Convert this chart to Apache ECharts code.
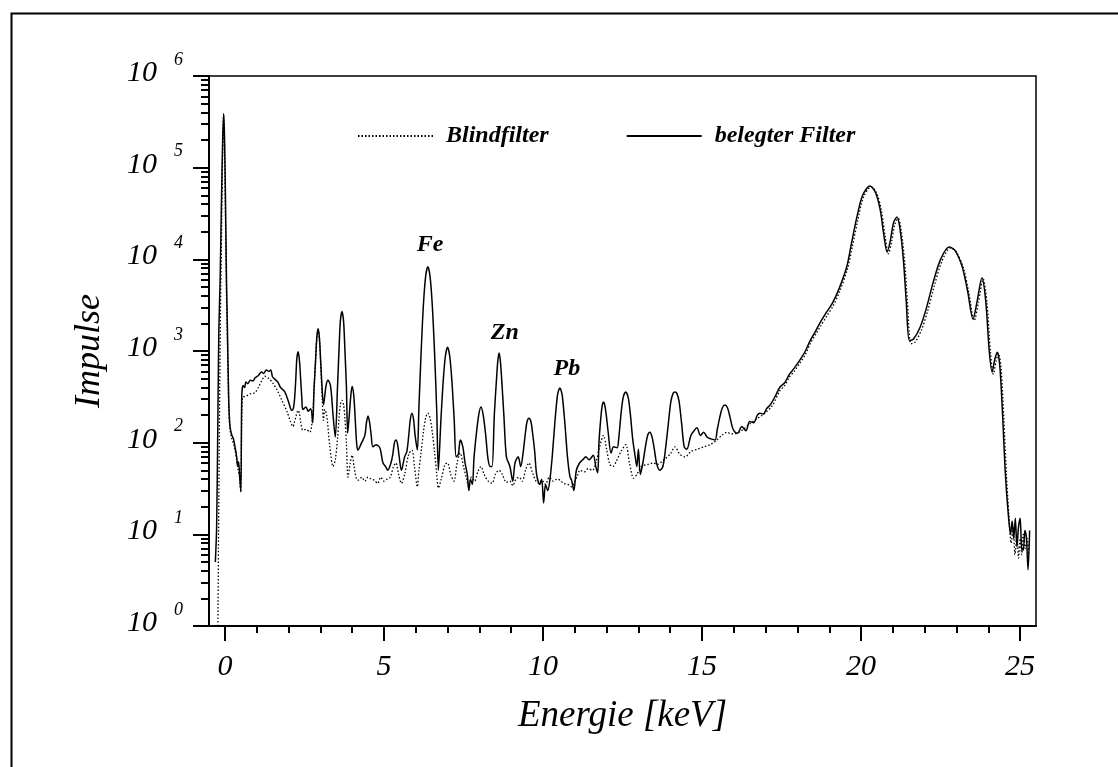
<!DOCTYPE html>
<html>
<head>
<meta charset="utf-8">
<script src="https://cdn.jsdelivr.net/npm/echarts@6/dist/echarts.min.js"></script>
<style>html,body{margin:0;padding:0;background:#fff;}#chart{width:1118px;height:767px;}</style>
</head>
<body>
<div id="chart"></div>
<script>
// ---- Data: [energy keV, counts] ----
const seriesNames = ['Blindfilter', 'belegter Filter'];
const xMajorTicks = [0, 5, 10, 15, 20, 25];
const xMinorTicks = [0,1,2,3,4,5,6,7,8,9,10,11,12,13,14,15,16,17,18,19,20,21,22,23,24,25];
const yMajorTicks = [1, 10, 100, 1000, 10000, 100000, 1000000];
const yMinorTicks = [2,3,4,5,6,7,8,9,20,30,40,50,60,70,80,90,200,300,400,500,600,700,800,900,
  2000,3000,4000,5000,6000,7000,8000,9000,20000,30000,40000,50000,60000,70000,80000,90000,
  200000,300000,400000,500000,600000,700000,800000,900000];

const belegterFilter = [
  [-0.30,5],[-0.26,12],[-0.22,200],[-0.19,1700],[-0.15,6000],[-0.11,40000],[-0.07,200000],[-0.04,390000],[-0.01,200000],
  [0.02,40000],[0.05,6000],[0.08,1700],[0.12,300],[0.16,150],[0.22,120],[0.27,110],[0.33,85],[0.37,70],[0.40,55],[0.43,62],[0.46,45],[0.50,29],
  [0.53,320],[0.57,420],[0.62,400],[0.66,460],[0.72,440],[0.80,480],[0.88,470],[0.95,510],[1.05,540],[1.15,590],[1.22,570],[1.30,620],
  [1.38,600],[1.44,620],[1.50,520],[1.58,490],[1.66,460],[1.75,400],[1.88,360],[2.00,280],[2.10,225],
  [2.15,235],[2.19,300],[2.23,505],[2.26,813],[2.30,980],[2.34,813],[2.38,505],[2.42,300],[2.45,230],
  [2.55,245],[2.62,220],[2.70,235],[2.76,165],
  [2.80,370],[2.85,781],[2.89,1409],[2.93,1750],[2.97,1409],[3.01,781],[3.06,370],[3.10,260],
  [3.18,420],[3.24,480],[3.32,420],[3.40,200],[3.47,115],
  [3.54,404],[3.59,1087],[3.63,2132],[3.68,2700],[3.73,2132],[3.77,1087],[3.82,404],[3.86,127],
  [3.91,200],[3.96,330],[4.00,410],[4.05,330],[4.09,200],[4.14,100],[4.18,83],
  [4.30,100],[4.40,120],[4.45,165],[4.50,195],[4.55,165],[4.60,120],[4.65,90],
  [4.75,95],[4.87,88],[4.97,60],[5.05,55],[5.12,50],[5.22,60],
  [5.28,75],[5.33,100],[5.38,107],[5.43,95],[5.48,70],[5.55,50],[5.65,70],
  [5.72,80],[5.78,120],[5.83,180],[5.88,210],[5.93,180],[5.98,120],[6.05,83],
  [6.10,244],[6.17,984],[6.24,3160],[6.31,6490],[6.38,8300],[6.45,6490],[6.52,3160],[6.59,984],[6.66,220],[6.71,50],
  [6.79,174],[6.86,450],[6.93,871],[7.00,1100],[7.07,871],[7.14,450],[7.21,174],[7.27,70],
  [7.34,75],[7.40,107],[7.48,90],[7.55,60],[7.62,45],[7.67,30],[7.72,40],[7.78,35],
  [7.83,67],[7.90,120],[7.98,201],[8.05,245],[8.12,201],[8.20,120],[8.27,67],[8.34,55],[8.40,55],
  [8.47,200],[8.54,500],[8.58,780],[8.62,950],[8.66,780],[8.70,500],[8.77,200],[8.85,70],[8.96,55],
  [9.05,38],[9.12,60],[9.22,70],[9.30,55],
  [9.38,80],[9.45,130],[9.50,170],[9.56,185],[9.62,170],[9.67,130],[9.74,80],[9.80,45],
  [9.90,35],[9.96,40],[10.02,22],[10.08,35],[10.15,30],[10.22,40],
  [10.29,70],[10.37,160],[10.45,320],[10.49,370],[10.53,395],[10.57,370],[10.61,320],[10.69,160],[10.77,70],[10.85,42],[10.90,39],
  [10.97,30],[11.05,50],[11.15,60],[11.25,65],[11.35,70],[11.45,65],[11.58,73],[11.66,55],[11.72,47],
  [11.76,100],[11.82,190],[11.86,250],[11.90,278],[11.94,260],[11.99,200],[12.05,130],[12.14,77],
  [12.22,90],[12.33,88],
  [12.38,110],[12.45,200],[12.52,310],[12.60,357],[12.68,310],[12.75,200],[12.82,110],[12.90,70],
  [12.95,55],[13.00,85],[13.06,45],[13.14,60],
  [13.22,90],[13.29,120],[13.36,130],[13.43,115],[13.50,85],[13.57,60],[13.67,50],[13.77,55],
  [13.86,90],[13.94,160],[14.02,280],[14.09,345],[14.15,357],[14.21,345],[14.28,280],[14.36,160],[14.44,90],
  [14.52,85],[14.65,120],[14.75,135],[14.84,145],[14.95,120],[15.05,130],[15.16,115],[15.28,110],[15.41,107],
  [15.48,140],[15.56,190],[15.64,240],[15.72,257],[15.80,240],[15.88,190],[15.96,145],[16.04,130],
  [16.12,127],[16.25,150],[16.38,135],[16.50,170],[16.62,165],[16.74,200],[16.82,210],[16.92,205],[17.04,237],
  [17.15,260],[17.30,320],[17.45,405],[17.60,450],[17.75,560],[17.90,650],[18.08,800],[18.25,1000],[18.40,1300],[18.55,1600],
  [18.70,2000],[18.90,2600],[19.10,3330],[19.30,4700],[19.55,8300],[19.70,15000],[19.87,29000],[20.05,50000],[20.28,63000],
  [20.45,54000],[20.60,35000],[20.72,18000],[20.82,12000],[20.92,16000],[21.02,25000],[21.13,29000],[21.22,22000],[21.33,10000],
  [21.42,3500],[21.52,1300],[21.65,1350],[21.86,1830],[22.05,2900],[22.26,5500],[22.50,10000],[22.77,13600],[22.95,12500],
  [23.18,8300],[23.35,4500],[23.52,2230],[23.65,3500],[23.80,6300],[23.92,3500],[24.03,1000],[24.12,590],[24.20,800],[24.28,970],
  [24.36,700],[24.45,200],[24.53,50],[24.62,18],[24.70,10],[24.75,14],[24.80,9],[24.85,15],[24.90,7.3],[24.95,12],[25.00,15],
  [25.05,7],[25.10,6.7],[25.15,11],[25.20,9],[25.25,4.1],[25.30,11]
];

const blindfilter = [
  [-0.22,1],[-0.20,10],[-0.17,200],[-0.14,2500],[-0.10,25000],[-0.07,150000],[-0.04,370000],[-0.01,150000],[0.02,25000],
  [0.05,4000],[0.08,1200],[0.12,250],[0.16,140],[0.22,110],[0.30,90],[0.37,65],[0.42,50],[0.46,42],[0.50,29],
  [0.55,310],[0.65,320],[0.80,340],[0.94,350],[1.05,400],[1.15,470],[1.26,530],[1.38,500],[1.50,450],[1.65,370],[1.79,290],
  [1.95,220],[2.06,170],[2.14,150],[2.18,165],[2.23,190],[2.27,215],[2.30,225],[2.34,210],[2.38,170],[2.45,137],[2.55,140],
  [2.67,130],[2.76,200],[2.80,370],[2.85,781],[2.89,1380],[2.93,1700],[2.97,1380],[3.01,760],[3.06,300],[3.10,175],[3.14,230],
  [3.20,200],[3.30,90],[3.40,55],[3.47,65],[3.54,110],[3.59,190],[3.63,260],[3.68,290],[3.73,260],[3.77,190],[3.82,100],[3.87,42],
  [3.94,60],[4.00,73],[4.06,55],[4.14,40],[4.20,39],[4.30,42],[4.40,38],[4.50,42],[4.60,40],[4.70,39],[4.80,36],[4.90,42],
  [5.00,38],[5.10,40],[5.20,42],[5.30,55],[5.38,60],[5.46,45],[5.55,36],[5.65,45],[5.78,75],[5.88,83],[5.96,55],[6.05,33],
  [6.10,50],[6.17,80],[6.24,130],[6.31,185],[6.38,210],[6.45,185],[6.52,130],[6.59,80],[6.66,45],[6.71,32],
  [6.80,40],[6.92,58],[7.00,60],[7.10,45],[7.20,38],[7.30,60],[7.40,77],[7.50,55],[7.60,40],[7.67,33],[7.75,42],[7.85,38],
  [7.95,48],[8.05,55],[8.15,45],[8.28,38],[8.40,36],[8.50,45],[8.62,50],[8.72,45],[8.85,37],[8.96,38],[9.05,34],[9.15,40],
  [9.25,42],[9.35,38],[9.45,50],[9.56,60],[9.66,48],[9.78,38],[9.88,36],[9.96,39],[10.08,35],[10.20,42],[10.32,38],[10.45,40],
  [10.53,39],[10.65,36],[10.78,35],[10.90,33],[11.00,38],[11.10,45],[11.16,50],[11.30,48],[11.42,52],[11.56,50],[11.66,60],
  [11.78,90],[11.90,120],[12.00,85],[12.10,58],[12.20,55],[12.30,62],[12.45,80],[12.60,95],[12.72,60],[12.85,41],[12.95,45],
  [13.10,55],[13.30,58],[13.46,60],[13.60,58],[13.80,65],[14.00,75],[14.15,90],[14.30,75],[14.47,70],[14.65,80],[14.85,85],
  [15.05,90],[15.25,95],[15.47,107],[15.62,120],[15.78,130],[15.92,125],[16.10,127],[16.30,140],[16.50,160],[16.70,180],
  [16.90,200],[17.04,220],[17.20,250],[17.45,370],[17.60,420],[17.75,520],[17.90,600],[18.08,740],[18.25,920],[18.40,1200],
  [18.55,1480],[18.72,1850],[18.92,2400],[19.12,3100],[19.32,4400],[19.57,7800],[19.73,14000],[19.90,27000],[20.08,48000],
  [20.32,62000],[20.49,53000],[20.64,34000],[20.76,17500],[20.86,11500],[20.96,15500],[21.06,24000],[21.17,28000],[21.26,21000],
  [21.37,9500],[21.46,3300],[21.57,1200],[21.70,1250],[21.90,1700],[22.09,2700],[22.30,5100],[22.54,9500],[22.81,13300],
  [22.99,12200],[23.22,8000],[23.39,4300],[23.56,2150],[23.69,3400],[23.84,6100],[23.96,3300],[24.07,950],[24.16,560],
  [24.24,760],[24.32,940],[24.40,660],[24.49,180],[24.57,45],[24.65,16],[24.72,8],[24.78,12],[24.84,6],[24.90,10],
  [24.95,5.5],[25.00,9],[25.05,6],[25.10,10],[25.16,7],[25.22,9],[25.27,6]
];

const peakLabels = ['Fe', 'Zn', 'Pb'];
const peakLabelAt = [[6.45, 14400], [8.8, 1580], [10.75, 635]];

// ---- Build chart ----
const serif = 'Liberation Serif';
const supers = v => '{b|10}{s|' + Math.round(Math.log10(v)) + '}';
const tickText = {fontFamily: serif, fontStyle: 'italic', color: '#000'};

const option = {
  backgroundColor: '#fff',
  animation: false,
  grid: {left: 209, right: 82, top: 76, bottom: 141, show: true, borderColor: '#000', borderWidth: 1.5, containLabel: false},
  legend: {
    data: seriesNames,
    left: 357, top: 124, padding: 0,
    itemWidth: 75, itemHeight: 14, itemGap: 77,
    itemStyle: {opacity: 0},
    textStyle: {fontFamily: serif, fontStyle: 'italic', fontWeight: 'bold', fontSize: 24, color: '#000', padding: [0, 0, 0, 8]}
  },
  xAxis: [{
    type: 'value', min: -0.5, max: 25.5,
    name: 'Energie [keV]', nameLocation: 'middle', nameGap: 72,
    nameTextStyle: {fontFamily: serif, fontStyle: 'italic', fontSize: 37, color: '#000'},
    axisLine: {show: true, onZero: false, lineStyle: {color: '#000', width: 2}},
    axisTick: {show: true, inside: false, length: 15, customValues: xMajorTicks, lineStyle: {color: '#000', width: 2}},
    axisLabel: Object.assign({customValues: xMajorTicks, margin: 26, fontSize: 30}, tickText),
    splitLine: {show: false}
  }, {
    type: 'value', min: -0.5, max: 25.5, position: 'bottom',
    axisLine: {show: false, onZero: false},
    axisTick: {show: true, inside: false, length: 7, customValues: xMinorTicks, lineStyle: {color: '#000', width: 2}},
    axisLabel: {show: false},
    splitLine: {show: false}
  }],
  yAxis: [{
    type: 'log', logBase: 10, min: 1, max: 1000000,
    name: 'Impulse', nameLocation: 'middle', nameGap: 101, nameRotate: 90,
    nameTextStyle: {fontFamily: serif, fontStyle: 'italic', fontSize: 36, color: '#000'},
    axisLine: {show: true, onZero: false, lineStyle: {color: '#000', width: 2}},
    axisTick: {show: true, inside: false, length: 16, customValues: yMajorTicks, lineStyle: {color: '#000', width: 2}},
    axisLabel: {
      customValues: yMajorTicks, margin: 26,
      formatter: supers,
      rich: {
        b: Object.assign({fontSize: 30, padding: [0, 0, 6, 0]}, tickText),
        s: Object.assign({fontSize: 18, padding: [0, 0, 32, 17]}, tickText)
      }
    },
    splitLine: {show: false}
  }, {
    type: 'log', logBase: 10, min: 1, max: 1000000, position: 'left',
    axisLine: {show: false, onZero: false},
    axisTick: {show: true, inside: false, length: 8, customValues: yMinorTicks, lineStyle: {color: '#000', width: 2}},
    axisLabel: {show: false},
    splitLine: {show: false}
  }],
  series: [{
    name: seriesNames[0], type: 'line', xAxisIndex: 0, yAxisIndex: 0,
    data: blindfilter,
    symbol: 'none', showSymbol: false, smooth: 0.3,
    lineStyle: {color: '#000', width: 1.3, type: [1.5, 2]},
    itemStyle: {color: '#000'}, z: 3
  }, {
    name: seriesNames[1], type: 'line', xAxisIndex: 0, yAxisIndex: 0,
    data: belegterFilter,
    symbol: 'none', showSymbol: false, smooth: 0.3,
    lineStyle: {color: '#000', width: 1.5, type: 'solid'},
    itemStyle: {color: '#000'}, z: 4
  }, {
    name: 'labels', type: 'scatter', xAxisIndex: 0, yAxisIndex: 0,
    data: peakLabels.map((n, i) => ({name: n, value: peakLabelAt[i]})),
    symbolSize: 1, itemStyle: {color: '#fff', opacity: 1},
    label: {show: true, position: 'inside', formatter: '{b}', fontFamily: serif, fontStyle: 'italic', fontWeight: 'bold',
      fontSize: 24, color: '#000', opacity: 1},
    silent: true, z: 5
  }],
  graphic: [{
    type: 'rect', left: 9, top: 11, silent: true,
    shape: {x: 0, y: 0, width: 1200, height: 820},
    style: {fill: null, stroke: '#000', lineWidth: 2}
  }]
};

const chart = echarts.init(document.getElementById('chart'), null, {renderer: 'canvas'});
chart.setOption(option);
</script>
</body>
</html>
